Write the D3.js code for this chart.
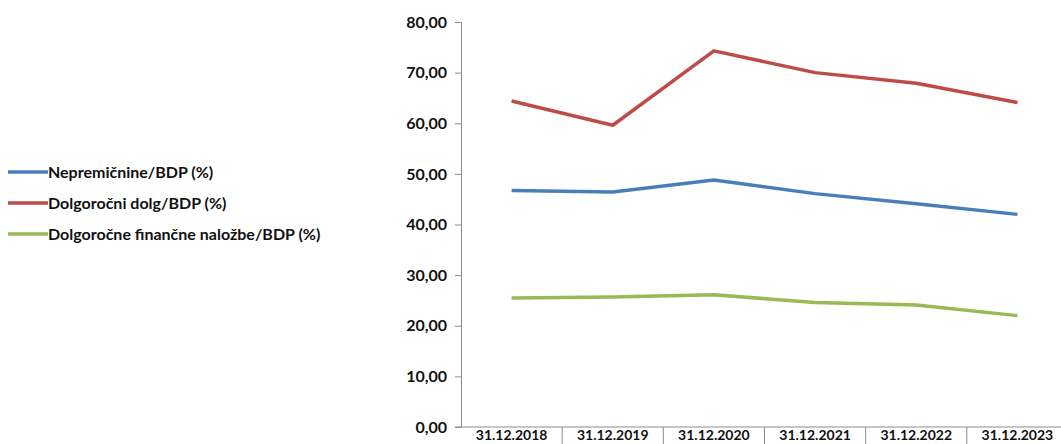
<!DOCTYPE html>
<html>
<head>
<meta charset="utf-8">
<script src="https://cdn.jsdelivr.net/npm/d3@7"></script>
<style>
body { margin: 0; background: #fff; }
svg { display: block; }
</style>
</head>
<body>
<div id="chart"></div>
<script>
var width = 1061,
height = 444;

var categories = ["31.12.2018", "31.12.2019", "31.12.2020", "31.12.2021", "31.12.2022", "31.12.2023"];
var seriesNames = ["Nepremičnine/BDP (%)", "Dolgoročni dolg/BDP (%)", "Dolgoročne finančne naložbe/BDP (%)"];
var nepremicnine = [46.7, 46.4, 48.8, 46.1, 44.1, 42.0];
var dolg = [64.4, 59.6, 74.3, 70.0, 67.9, 64.1];
var nalozbe = [25.5, 25.7, 26.1, 24.6, 24.1, 22.0];
var yTicks = [0, 10, 20, 30, 40, 50, 60, 70, 80];
var colors = ["#4a7ebb", "#be4b48", "#98b954"];

var series = [nepremicnine, dolg, nalozbe];

var svg = d3.select("#chart")
.append("svg")
.attr("width", width)
.attr("height", height);

var xScale = d3.scaleBand()
.domain(categories)
.range([461, 1068]);

var yScale = d3.scaleLinear()
.domain([0, 80])
.range([427, 22]);

var fmt = function(d) { return d3.format(".2f")(d).replace(".", ","); };

// y axis
var yAxis = svg.append("g")
.attr("transform", "translate(461,0)")
.call(d3.axisLeft(yScale).tickValues(yTicks).tickSize(6).tickPadding(8).tickFormat(fmt));

yAxis.select(".domain").attr("stroke", "#8c8c8c");
yAxis.selectAll(".tick line").attr("stroke", "#8c8c8c");
yAxis.selectAll("text")
.attr("font-family", "Lato, 'Open Sans', sans-serif")
.attr("font-size", "16px")
.attr("font-weight", "bold")
.attr("fill", "#111");

// x axis line and category separators
svg.append("line")
.attr("x1", 455)
.attr("x2", width)
.attr("y1", yScale(0))
.attr("y2", yScale(0))
.attr("stroke", "#8c8c8c");

svg.selectAll(".sep")
.data(categories.slice(1))
.enter()
.append("line")
.attr("class", "sep")
.attr("x1", function(d) { return xScale(d); })
.attr("x2", function(d) { return xScale(d); })
.attr("y1", yScale(0))
.attr("y2", height)
.attr("stroke", "#8c8c8c");

svg.selectAll(".cat")
.data(categories)
.enter()
.append("text")
.attr("class", "cat")
.text(function(d) { return d; })
.attr("x", function(d) { return xScale(d) + xScale.bandwidth() / 2; })
.attr("y", 440)
.attr("text-anchor", "middle")
.attr("font-family", "Lato, 'Open Sans', sans-serif")
.attr("font-size", "14px")
.attr("font-weight", "bold")
.attr("fill", "#111");

// lines
var line = d3.line()
.x(function(d, i) { return xScale(categories[i]) + xScale.bandwidth() / 2; })
.y(function(d) { return yScale(d); });

svg.selectAll(".series")
.data(series)
.enter()
.append("path")
.attr("class", "series")
.attr("d", line)
.attr("fill", "none")
.attr("stroke", function(d, i) { return colors[i]; })
.attr("stroke-width", 3.5)
.attr("stroke-linejoin", "round");

// legend
var legend = svg.selectAll(".legend")
.data(seriesNames)
.enter()
.append("g")
.attr("class", "legend")
.attr("transform", function(d, i) { return "translate(8," + (172 + i * 31) + ")"; });

legend.append("line")
.attr("x1", 0)
.attr("x2", 40)
.attr("stroke", function(d, i) { return colors[i]; })
.attr("stroke-width", 3.5);

legend.append("text")
.text(function(d) { return d; })
.attr("x", 40)
.attr("y", 5.5)
.attr("font-family", "Lato, 'Open Sans', sans-serif")
.attr("font-size", "16px")
.attr("font-weight", "bold")
.attr("fill", "#111");
</script>
</body>
</html>
